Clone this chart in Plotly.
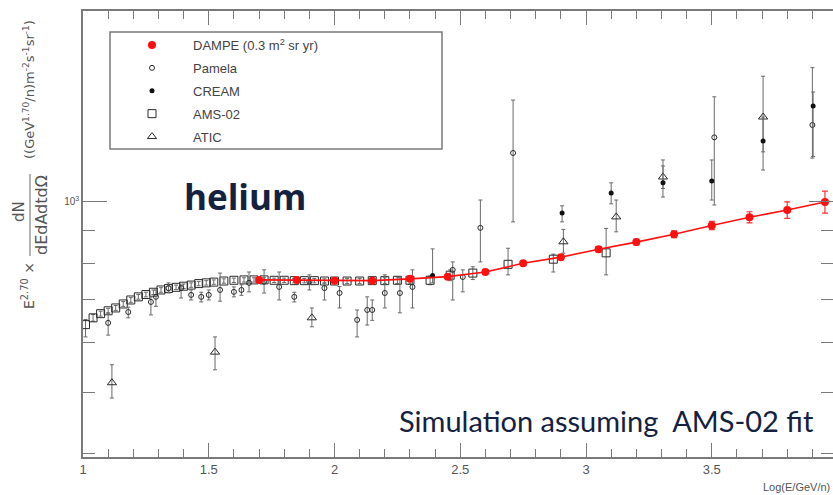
import plotly.graph_objects as go

# ---------------- data ----------------
dampe_x = [1.70, 1.85, 2.00, 2.15, 2.30, 2.45, 2.60, 2.75, 2.90, 3.05, 3.20, 3.35, 3.50, 3.65, 3.80, 3.95]
dampe_y = [753, 753, 751, 751, 756, 762, 775, 800, 818, 842, 864, 889, 918, 946, 971, 1000]
dampe_err = [5, 5, 5, 5, 5, 5, 5, 6, 7, 8, 9, 11, 14, 19, 29, 40]

ams_x = [1.01, 1.04, 1.07, 1.10, 1.13, 1.16, 1.19, 1.22, 1.25, 1.28, 1.31, 1.34, 1.37, 1.40,
         1.43, 1.46, 1.49, 1.52, 1.56, 1.60, 1.64, 1.68, 1.72, 1.76, 1.80, 1.84, 1.88, 1.92,
         1.96, 2.00, 2.05, 2.10, 2.15, 2.20, 2.25, 2.30, 2.38, 2.46, 2.55, 2.69, 2.87, 3.08]
ams_y = [640, 656, 666, 673, 680, 690, 700, 708, 714, 720, 726, 730, 733, 736,
         739, 743, 745, 747, 750, 752, 753, 753, 753, 752, 752, 751, 751, 751,
         750, 750, 750, 750, 751, 751, 752, 752, 752, 766, 772, 797, 812, 831]
ams_hi = [652, 664, 672, 679, 686, 696, 706, 714, 720, 726, 732, 736, 739, 742,
          745, 749, 751, 753, 756, 758, 759, 759, 759, 758, 758, 757, 757, 757,
          756, 756, 757, 757, 758, 759, 761, 762, 764, 781, 790, 845, 827, 908]
ams_lo = [612, 648, 660, 667, 674, 684, 694, 702, 708, 714, 720, 724, 727, 730,
          733, 737, 739, 741, 744, 746, 747, 747, 747, 746, 746, 745, 745, 745,
          744, 744, 743, 743, 744, 743, 743, 742, 740, 751, 754, 767, 775, 767]

pamela_x = [1.10, 1.18, 1.27, 1.29, 1.34, 1.39, 1.43, 1.47, 1.50, 1.545, 1.60, 1.63, 1.66,
            1.72, 1.78, 1.84, 1.90, 1.96, 2.02, 2.09, 2.13, 2.15, 2.20, 2.26, 2.31, 2.47,
            2.51, 2.58, 2.71, 3.51, 3.90]
pamela_y = [644, 670, 695, 708, 731, 731, 713, 708, 713, 726, 721, 726, 745,
            748, 734, 708, 748, 731, 718, 651, 675, 675, 718, 718, 734, 781,
            761, 910, 1195, 1265, 1323]
pamela_hi = [668, 682, 708, 726, 745, 739, 726, 720, 726, 772, 734, 740, 775,
             781, 775, 720, 767, 745, 735, 675, 708, 700, 767, 760, 781, 804,
             781, 1007, 1449, 1466, 1630]
pamela_lo = [616, 656, 663, 684, 718, 705, 700, 695, 700, 697, 708, 712, 721,
             718, 700, 695, 726, 700, 680, 612, 639, 650, 680, 668, 680, 700,
             721, 804, 930, 989, 1173]

cream_x = [2.39, 2.905, 3.10, 3.306, 3.50, 3.704, 3.903]
cream_y = [765, 961, 1033, 1072, 1079, 1248, 1418]
cream_hi = [843, 986, 1072, 1165, 1165, 1362, 1492]
cream_lo = [745, 930, 993, 1018, 1007, 1123, 1180]

atic_x = [1.115, 1.525, 1.91, 2.91, 3.12, 3.306, 3.704]
atic_y = [518, 579, 656, 865, 947, 1095, 1362]
atic_hi = [553, 612, 680, 905, 1007, 1140, 1580]
atic_lo = [490, 543, 635, 830, 897, 1050, 1200]

x_range = [1.0, 3.982]
y_range_log = [2.597, 3.3017]
y_major = [1000]
y_major_text = ["10<sup>3</sup>"]
y_minor = [400, 500, 600, 700, 800, 900, 2000]

# ---------------- layout helpers ----------------
W, H = 833, 495
ML, MR, MT, MB = 83, 0, 11, 38
def px(xp):
    return (xp - ML) / (W - ML - MR)
def py(yp):
    return (H - MB - yp) / (H - MT - MB)

def errs(y, hi, lo):
    return [h - v for v, h in zip(y, hi)], [v - l for v, l in zip(y, lo)]

EB = "#6a6a6a"
MK = "#2a2a2a"
fig = go.Figure()

up, dn = errs(ams_y, ams_hi, ams_lo)
fig.add_trace(go.Scatter(x=ams_x, y=ams_y, mode="markers", name="AMS-02",
                         legendrank=4, legendgroup="d",
                         marker=dict(symbol="square-open", size=8, color=MK, line=dict(width=1)),
                         error_y=dict(type="data", array=up, arrayminus=dn, color=EB, thickness=1, width=2)))
up, dn = errs(pamela_y, pamela_hi, pamela_lo)
fig.add_trace(go.Scatter(x=pamela_x, y=pamela_y, mode="markers", name="Pamela",
                         legendrank=2, legendgroup="b",
                         marker=dict(symbol="circle-open", size=5, color=MK, line=dict(width=1)),
                         error_y=dict(type="data", array=up, arrayminus=dn, color=EB, thickness=1, width=2)))
up, dn = errs(atic_y, atic_hi, atic_lo)
fig.add_trace(go.Scatter(x=atic_x, y=atic_y, mode="markers", name="ATIC",
                         legendrank=5, legendgroup="e",
                         marker=dict(symbol="triangle-up-open", size=8, color=MK, line=dict(width=1)),
                         error_y=dict(type="data", array=up, arrayminus=dn, color=EB, thickness=1, width=2)))
up, dn = errs(cream_y, cream_hi, cream_lo)
fig.add_trace(go.Scatter(x=cream_x, y=cream_y, mode="markers", name="CREAM",
                         legendrank=3, legendgroup="c",
                         marker=dict(symbol="circle", size=5, color="#111"),
                         error_y=dict(type="data", array=up, arrayminus=dn, color=EB, thickness=1, width=2)))
fig.add_trace(go.Scatter(x=dampe_x, y=dampe_y, mode="lines", showlegend=False,
                         line=dict(color="#ff1010", width=1.6), hoverinfo="skip"))
fig.add_trace(go.Scatter(x=dampe_x, y=dampe_y, mode="markers", name="DAMPE (0.3 m<sup>2</sup> sr yr)",
                         legendrank=1, legendgroup="a",
                         marker=dict(symbol="circle", size=8, color="#ff1010"),
                         error_y=dict(type="data", array=dampe_err, color="#ff3030", thickness=1.2, width=3)))

axis_col = "#7a7a7a"
fig.update_xaxes(range=x_range, showline=True, linecolor=axis_col, linewidth=1.5, mirror="allticks",
                 ticks="inside", ticklen=14, tickwidth=1.2, tickcolor=axis_col, tick0=1, dtick=0.5,
                 showgrid=False, zeroline=False, automargin=False,
                 tickfont=dict(family="Liberation Sans", size=13, color="#555"),
                 minor=dict(ticks="inside", dtick=0.1, tick0=1, ticklen=8, tickwidth=1.2, tickcolor=axis_col))
fig.update_yaxes(type="log", range=y_range_log, showline=True, linecolor=axis_col, linewidth=1.5,
                 mirror="allticks", ticks="inside", ticklen=24, tickwidth=1.2, tickcolor=axis_col,
                 tickmode="array", tickvals=y_major, ticktext=y_major_text,
                 showgrid=False, zeroline=False, automargin=False,
                 tickfont=dict(family="Liberation Sans", size=10, color="#555"),
                 minor=dict(ticks="inside", tickmode="array", tickvals=y_minor, ticklen=12,
                            tickwidth=1.2, tickcolor=axis_col))

def note(xp, yp, text, font, angle=0, xa="center", ya="middle"):
    return dict(x=px(xp), y=py(yp), xref="paper", yref="paper", text=text, textangle=angle,
                xanchor=xa, yanchor=ya, showarrow=False, font=font)

def yf(size):
    return dict(family="DejaVu Sans", size=size, color="#555")

ann = [
    note(28, 286, "E<sup>2.70</sup> ×", yf(14), -90),
    note(19, 212, "dN", yf(15), -90),
    note(41, 215, "dEdAdtdΩ", yf(16), -90),
    note(29, 90, "((GeV<sup>1.70</sup>/n)m<sup>-2</sup>s<sup>-1</sup>sr<sup>-1</sup>)", yf(13), -90),
    note(832, 487, "Log(E/GeV/n)", dict(family="Liberation Sans", size=11, color="#555"), xa="right"),
    note(245, 196, "<b>helium</b>", dict(family="Open Sans", size=35, color="#14213f")),
    note(397, 420, "Simulation assuming  AMS-02 fit",
         dict(family="Lato", size=29, color="#14213f"), xa="left"),
]

shapes = [
    dict(type="rect", xref="paper", yref="paper", x0=px(110), x1=px(442), y0=py(149), y1=py(32),
         line=dict(color="#7a7a7a", width=1.5), layer="below"),
    dict(type="line", xref="paper", yref="paper", x0=px(30), x1=px(30), y0=py(174), y1=py(256),
         line=dict(color="#666", width=1)),
]

fig.update_layout(
    width=W, height=H, margin=dict(l=ML, r=MR, t=MT, b=MB, pad=0, autoexpand=False),
    plot_bgcolor="white", paper_bgcolor="white",
    annotations=ann, shapes=shapes,
    legend=dict(x=px(111), y=py(30), xanchor="left", yanchor="top", bgcolor="rgba(0,0,0,0)",
                borderwidth=0, tracegroupgap=3, itemwidth=72,
                font=dict(family="Liberation Sans", size=13, color="#444")),
    showlegend=True,
)

fig.write_html("out.html", config={"displayModeBar": False},
               post_script="document.body.style.margin='0';document.body.style.overflow='hidden';")
